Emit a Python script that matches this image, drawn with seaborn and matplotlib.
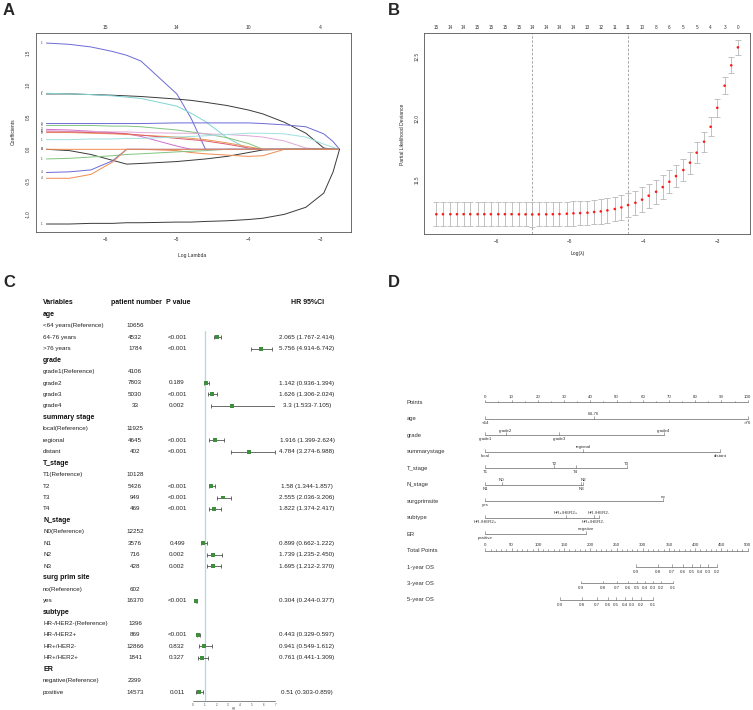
import numpy as np
import pandas as pd
import matplotlib
matplotlib.use("Agg")
import matplotlib.pyplot as plt
import seaborn as sns

# ---------------- panel A : lasso coefficient paths ----------------
knots = [-6.82, -6.5, -6.2, -5.9, -5.7, -5.5, -5.0, -4.8, -4.6, -4.3,
         -4.0, -3.8, -3.5, -3.2, -2.95, -2.82, -2.73]
path_1 = [1.65, 1.63, 1.59, 1.52, 1.46, 1.37, 0.86, 0.48, 0.0, 0, 0, 0, 0, 0, 0, 0, 0]
path_2 = [0.86, 0.86, 0.85, 0.84, 0.83, 0.82, 0.78, 0.76, 0.73, 0.68, 0.61, 0.55, 0.42, 0.25, 0.02, 0, 0]
path_3 = [0.87, 0.86, 0.85, 0.83, 0.81, 0.79, 0.67, 0.56, 0.43, 0.18, 0, 0, 0, 0, 0, 0, 0]
path_4 = [0.40, 0.40, 0.40, 0.40, 0.40, 0.40, 0.41, 0.41, 0.41, 0.41, 0.41, 0.40, 0.38, 0.35, 0.24, 0.12, 0]
path_5 = [0.37, 0.37, 0.37, 0.36, 0.36, 0.35, 0.30, 0.27, 0.24, 0.18, 0.09, 0.0, 0, 0, 0, 0, 0]
path_6 = [0.31, 0.30, 0.28, 0.26, 0.24, 0.20, 0.05, 0, 0, 0, 0, 0, 0, 0, 0, 0, 0]
path_7 = [0.29, 0.28, 0.28, 0.27, 0.27, 0.26, 0.25, 0.25, 0.24, 0.23, 0.21, 0.19, 0.13, 0.02, 0, 0, 0]
path_8 = [0.26, 0.26, 0.25, 0.24, 0.23, 0.22, 0.19, 0.17, 0.15, 0.10, 0.04, 0.0, 0, 0, 0, 0, 0]
path_9 = [0.27, 0.27, 0.26, 0.25, 0.24, 0.22, 0.17, 0.15, 0.13, 0.08, 0.02, 0, 0, 0, 0, 0, 0]
path_10 = [0.15, 0.15, 0.16, 0.16, 0.17, 0.17, 0.19, 0.20, 0.21, 0.23, 0.25, 0.25, 0.24, 0.19, 0.08, 0.03, 0]
path_11 = [0, -0.02, -0.08, -0.17, -0.23, -0.22, -0.19, -0.17, -0.15, -0.11, -0.05, -0.01, 0, 0, 0, 0, 0]
path_12 = [0, 0, 0, 0, 0, 0, -0.02, -0.05, -0.07, -0.09, -0.11, -0.10, 0, 0, 0, 0, 0]
path_13 = [-0.15, -0.14, -0.12, -0.10, -0.08, -0.07, -0.04, -0.03, -0.02, 0, 0, 0, 0, 0, 0, 0, 0]
path_14 = [-0.36, -0.35, -0.32, -0.18, 0, 0, 0, 0, 0, 0, 0, 0, 0, 0, 0, 0, 0]
path_15 = [-0.45, -0.45, -0.39, -0.20, 0, 0, 0, 0, 0, 0, 0, 0, 0, 0, 0, 0, 0]
path_16 = [-1.16, -1.16, -1.15, -1.15, -1.14, -1.14, -1.13, -1.13, -1.12, -1.11,
           -1.09, -1.07, -1.01, -0.90, -0.68, -0.35, 0]
path_labels = ['1', '1', '7', '2', '3', '3', '5', '3', '6', '1', '0', '4', '1', '4', '4', '1']
top_a_ticks = [-6, -5, -4, -3]
top_a_labels = ['15', '14', '10', '4']

# ---------------- panel B : cross validation ----------------
log_lambda = [-6.81, -6.72, -6.62, -6.53, -6.44, -6.35, -6.25, -6.16, -6.07, -5.97,
              -5.88, -5.79, -5.69, -5.60, -5.51, -5.42, -5.32, -5.23, -5.14, -5.04,
              -4.95, -4.86, -4.76, -4.67, -4.58, -4.49, -4.39, -4.30, -4.21, -4.11,
              -4.02, -3.93, -3.83, -3.74, -3.65, -3.56, -3.46, -3.37, -3.28, -3.18,
              -3.09, -3.00, -2.90, -2.81, -2.72]
deviance = [11.223, 11.223, 11.223, 11.223, 11.223, 11.223, 11.223, 11.223, 11.223, 11.223,
            11.223, 11.223, 11.222, 11.222, 11.221, 11.222, 11.222, 11.223, 11.224, 11.227,
            11.230, 11.232, 11.235, 11.241, 11.246, 11.254, 11.265, 11.278, 11.297, 11.316,
            11.341, 11.373, 11.405, 11.443, 11.486, 11.532, 11.581, 11.641, 11.722, 11.811,
            11.932, 12.086, 12.265, 12.430, 12.576]
dev_se = [0.097, 0.097, 0.097, 0.097, 0.097, 0.097, 0.097, 0.097, 0.097, 0.097,
          0.097, 0.097, 0.097, 0.097, 0.098, 0.098, 0.098, 0.098, 0.098, 0.098,
          0.099, 0.099, 0.099, 0.099, 0.100, 0.100, 0.100, 0.100, 0.100, 0.099,
          0.099, 0.098, 0.097, 0.096, 0.094, 0.092, 0.090, 0.088, 0.085, 0.082,
          0.078, 0.074, 0.069, 0.065, 0.062]
nonzero_counts = ['15', '14', '14', '15', '15', '15', '15', '14', '14', '14', '14', '13',
                  '12', '11', '11', '10', '8', '6', '5', '5', '4', '3', '0']
lambda_min_idx = 14
lambda_1se_idx = 28

# ---------------- panel C : multivariable cox table ----------------
group_names = ['age', 'grade', 'summary stage', 'T_stage', 'N_stage',
               'surg prim site', 'subtype', 'ER']
row_labels = ['age', '<64 years(Reference)', '64-76 years', '>76 years',
              'grade', 'grade1(Reference)', 'grade2', 'grade3', 'grade4',
              'summary stage', 'local(Reference)', 'regional', 'distant',
              'T_stage', 'T1(Reference)', 'T2', 'T3', 'T4',
              'N_stage', 'N0(Reference)', 'N1', 'N2', 'N3',
              'surg prim site', 'no(Reference)', 'yes',
              'subtype', 'HR-/HER2-(Reference)', 'HR-/HER2+', 'HR+/HER2-', 'HR+/HER2+',
              'ER', 'negative(Reference)', 'positive']
patient_n = ['', '10656', '4532', '1784',
             '', '4106', '7803', '5030', '33',
             '', '11925', '4645', '402',
             '', '10128', '5426', '949', '469',
             '', '12252', '3576', '716', '428',
             '', '602', '16370',
             '', '1396', '869', '12866', '1841',
             '', '2399', '14573']
p_values = ['', '', '<0.001', '<0.001',
            '', '', '0.189', '<0.001', '0.002',
            '', '', '<0.001', '<0.001',
            '', '', '<0.001', '<0.001', '<0.001',
            '', '', '0.499', '0.002', '0.002',
            '', '', '<0.001',
            '', '', '<0.001', '0.832', '0.327',
            '', '', '0.011']
hr_est = ['', '', '2.065', '5.756',
          '', '', '1.142', '1.626', '3.3',
          '', '', '1.916', '4.784',
          '', '', '1.58', '2.555', '1.822',
          '', '', '0.899', '1.739', '1.695',
          '', '', '0.304',
          '', '', '0.443', '0.941', '0.761',
          '', '', '0.51']
hr_low = ['', '', '1.767', '4.914',
          '', '', '0.936', '1.306', '1.533',
          '', '', '1.399', '3.274',
          '', '', '1.344', '2.036', '1.374',
          '', '', '0.662', '1.235', '1.212',
          '', '', '0.244',
          '', '', '0.329', '0.549', '0.441',
          '', '', '0.303']
hr_high = ['', '', '2.414', '6.742',
           '', '', '1.394', '2.024', '7.105',
           '', '', '2.624', '6.988',
           '', '', '1.857', '3.206', '2.417',
           '', '', '1.222', '2.450', '2.370',
           '', '', '0.377',
           '', '', '0.597', '1.612', '1.309',
           '', '', '0.859']
hr_axis_ticks = [0, 1, 2, 3, 4, 5, 6, 7]

# ---------------- panel D : nomogram ----------------
nomo_rows = ['Points', 'age', 'grade', 'summarystage', 'T_stage', 'N_stage',
             'surgprimsite', 'subtype', 'ER', 'Total Points',
             '1-year OS', '3-year OS', '5-year OS']
age_levels = ['<64', '64-76', '>76']
age_points = [0, 41.4, 100]
grade_levels = ['grade1', 'grade2', 'grade3', 'grade4']
grade_points = [0, 7.7, 28.1, 68.1]
stage_levels = ['local', 'regional', 'distant']
stage_points = [0, 37.4, 89.5]
t_levels = ['T1', 'T2', 'T3', 'T4']
t_points = [0, 26.3, 53.9, 34.4]
n_levels = ['N0', 'N1', 'N2', 'N3']
n_points = [6.2, 0, 37.4, 36.5]
surg_levels = ['no', 'yes']
surg_points = [67.6, 0]
subtype_levels = ['HR-/HER2-', 'HR-/HER2+', 'HR+/HER2-', 'HR+/HER2+']
subtype_points = [43.3, 0, 41.3, 30.6]
er_levels = ['negative', 'positive']
er_points = [38.4, 0]
os1_probs = ['0.9', '0.8', '0.7', '0.6', '0.5', '0.4', '0.3', '0.2']
os1_total = [287.2, 328.4, 356.4, 376.1, 393.3, 409.2, 425.0, 442.2]
os3_probs = ['0.9', '0.8', '0.7', '0.6', '0.5', '0.4', '0.3', '0.2', '0.1']
os3_total = [182.3, 224.9, 251.6, 272.6, 289.1, 304.3, 318.9, 335.5, 358.3]
os5_probs = ['0.9', '0.8', '0.7', '0.6', '0.5', '0.4', '0.3', '0.2', '0.1']
os5_total = [142.3, 184.9, 212.2, 233.2, 249.7, 265.6, 280.2, 296.7, 318.9]

# ---------------- figure ----------------
sns.set_style("white")
plt.rcParams['font.family'] = ['Liberation Sans', 'DejaVu Sans']
W, H = 753, 710
fig = plt.figure(figsize=(W / 100, H / 100), dpi=100)


def box(x0, y0, x1, y1):
    # pixel rectangle -> figure fraction
    return [x0 / W, 1 - y1 / H, (x1 - x0) / W, (y1 - y0) / H]


def ftext(x, y, s, **kw):
    fig.text(x / W, 1 - y / H, s, **kw)


def r_frame(ax):
    for sp in ax.spines.values():
        sp.set_visible(True)
        sp.set_color('#555555')
        sp.set_linewidth(0.6)
    ax.tick_params(labelsize=3.3, length=2, width=0.4, colors='#333333', pad=1.5)
    plt.setp(ax.get_yticklabels(), rotation=90, va='center')


for lab, px, py in [('A', 3, 3), ('B', 388, 3), ('C', 3, 275), ('D', 388, 275)]:
    ftext(px, py, lab, fontsize=12, fontweight='bold', va='top', ha='left')

# panel A
axA = fig.add_axes(box(36, 33, 351, 232))
a_colors = ['#6a6ad6', '#3a3a3a', '#7fd4d4', '#6a6ad6', '#80c480', '#cf6fcf', '#e0a6d6',
            '#e89a50', '#e05a70', '#9fe0e0', '#3a3a3a', '#f08a50', '#80c480',
            '#6a6ad6', '#f08a50', '#3a3a3a']
a_paths = [path_1, path_2, path_3, path_4, path_5, path_6, path_7, path_8, path_9,
           path_10, path_11, path_12, path_13, path_14, path_15, path_16]
for vals, col, lab in zip(a_paths, a_colors, path_labels):
    sns.lineplot(x=knots, y=vals, ax=axA, color=col, lw=0.7, estimator=None)
    axA.text(-6.88, vals[0], lab, fontsize=2.2, ha='center', va='center', color='#333333')
axA.set_xlim(-6.965, -2.57)
axA.set_ylim(-1.284, 1.806)
axA.set_xticks([-6, -5, -4, -3])
axA.set_yticks([-1.0, -0.5, 0.0, 0.5, 1.0, 1.5])
axA.set_yticklabels(['-1.0', '-0.5', '0.0', '0.5', '1.0', '1.5'])
r_frame(axA)
secA = axA.secondary_xaxis('top')
secA.set_xticks(top_a_ticks, labels=top_a_labels)
secA.tick_params(length=0, labelsize=3.6, pad=2.5, colors='#333333')
secA.spines['top'].set_visible(False)
ftext(13, 132, 'Coefficients', fontsize=3.6, rotation=90, ha='center', va='center')
ftext(192, 255, 'Log Lambda', fontsize=3.6, ha='center', va='center')

# panel B
axB = fig.add_axes(box(424.3, 33.3, 750, 234.3))
axB.errorbar(log_lambda, deviance, yerr=dev_se, fmt='none', ecolor='#b8b8b8',
             elinewidth=0.6, capsize=2.0, capthick=0.6, zorder=2)
sns.scatterplot(x=log_lambda, y=deviance, ax=axB, color='#ff1a1a', s=3.5,
                edgecolor='none', zorder=3)
for idx in [lambda_min_idx, lambda_1se_idx]:
    axB.axvline(log_lambda[idx], color='#9a9a9a', lw=0.6, ls=(0, (3, 2)), zorder=1)
axB.set_xlim(-6.973, -2.556)
axB.set_ylim(11.06, 12.69)
axB.set_xticks([-6, -5, -4, -3])
axB.set_yticks([11.5, 12.0, 12.5])
axB.set_yticklabels(['11.5', '12.0', '12.5'])
r_frame(axB)
secB = axB.secondary_xaxis('top')
secB.set_xticks(log_lambda[::2], labels=nonzero_counts)
secB.tick_params(length=0, labelsize=3.3, pad=2.5, colors='#333333')
secB.spines['top'].set_visible(False)
ftext(402, 134, 'Partial Likelihood Deviance', fontsize=3.6, rotation=90, ha='center', va='center')
ftext(578, 254, 'Log(\u03bb)', fontsize=3.6, ha='center', va='center')

# panel C table
def crow(py):
    return (py - 314.3) / 11.45


ax_t = fig.add_axes(box(0, 290, 380, 710))
ax_t.set_xlim(0, 380)
ax_t.set_ylim(crow(710), crow(290))
ax_t.axis('off')
hdr = dict(fontsize=5.0, fontweight='bold', va='center', color='#111111')
ax_t.text(43, -1, 'Variables', ha='left', **hdr)
ax_t.text(111, -1, 'patient number', ha='left', **hdr)
ax_t.text(166, -1, 'P value', ha='left', **hdr)
ax_t.text(291, -1, 'HR 95%CI', ha='left', **hdr)
for i, lab in enumerate(row_labels):
    if lab in group_names:
        ax_t.text(43, i, lab, ha='left', va='center', fontsize=5.0, fontweight='bold', color='#111111')
        continue
    ax_t.text(43, i, lab, ha='left', va='center', fontsize=4.5, color='#222222')
    ax_t.text(135, i, patient_n[i], ha='center', va='center', fontsize=4.5, color='#222222')
    if p_values[i]:
        ax_t.text(177, i, p_values[i], ha='center', va='center', fontsize=4.5, color='#222222')
        ax_t.text(307, i, f"{hr_est[i]} ({hr_low[i]}-{hr_high[i]})", ha='center',
                  va='center', fontsize=4.5, color='#222222')

forest = pd.DataFrame({'row': range(len(row_labels)), 'hr': hr_est, 'lo': hr_low, 'hi': hr_high})
forest = forest[forest['hr'] != ''].astype(float)
ax_f = fig.add_axes(box(192.7, 331, 275.3, 700.5))
ax_f.axvline(1, color='#a9dbe4', lw=0.9, zorder=0)
ax_f.errorbar(forest['hr'], forest['row'],
              xerr=[forest['hr'] - forest['lo'], forest['hi'] - forest['hr']],
              fmt='none', ecolor='#333333', elinewidth=0.5, capsize=1.1, capthick=0.5, zorder=2)
sns.scatterplot(data=forest, x='hr', y='row', ax=ax_f, marker='s', color='#3d8f3d',
                s=8, edgecolor='none', zorder=3)
ax_f.set_xlim(0, 7)
ax_f.set_ylim(crow(700.5), crow(331))
ax_f.set_xticks(hr_axis_ticks)
ax_f.set_yticks([])
for s in ['left', 'right', 'top']:
    ax_f.spines[s].set_visible(False)
ax_f.spines['bottom'].set_color('#555555')
ax_f.spines['bottom'].set_linewidth(0.5)
ax_f.tick_params(axis='x', labelsize=2.2, length=1.2, width=0.4, pad=0.6, colors='#444444')
ax_f.set_xlabel('HR', fontsize=2.2, labelpad=0.3, color='#444444')
ax_f.set_ylabel('')

# panel D nomogram
def nrow(py):
    return (py - 402.3) / 16.47


PX0, PX100 = 485.3, 747.7
ppx = (PX100 - PX0) / 100
ax_n = fig.add_axes(box(380, 380, 753, 610))
ax_n.set_xlim((380 - PX0) / ppx, (753 - PX0) / ppx)
ax_n.set_ylim(nrow(610), nrow(380))
ax_n.axis('off')
lc, tc = '#666666', '#333333'
tk = 0.17

for r, name in enumerate(nomo_rows):
    ax_n.text((406.7 - PX0) / ppx, r, name, ha='left', va='center', fontsize=4.2, color=tc)


def axis_row(r, lo, hi, major, major_lab, minor, above=True):
    sns.lineplot(x=[lo, hi], y=[r, r], ax=ax_n, color=lc, lw=0.5, estimator=None)
    for m in minor:
        ax_n.plot([m, m], [r, r - tk * 0.6], color=lc, lw=0.4)
    for m, lab in zip(major, major_lab):
        ax_n.plot([m, m], [r, r - tk], color=lc, lw=0.4)
        ax_n.text(m, r - 0.33 if above else r + 0.3, lab, ha='center', va='center',
                  fontsize=3.2, color=tc)


axis_row(0, 0, 100, list(range(0, 101, 10)), [str(v) for v in range(0, 101, 10)],
         list(range(5, 100, 10)))
axis_row(9, 0, 100, [v / 5 for v in range(0, 501, 50)], [str(v) for v in range(0, 501, 50)],
         [v / 5 for v in range(10, 500, 10) if v % 50])

var_scales = [(age_levels, age_points), (grade_levels, grade_points),
              (stage_levels, stage_points), (t_levels, t_points), (n_levels, n_points),
              (surg_levels, surg_points), (subtype_levels, subtype_points),
              (er_levels, er_points)]
for r, (levels, pts) in enumerate(var_scales, start=1):
    sns.lineplot(x=[min(pts), max(pts)], y=[r, r], ax=ax_n, color=lc, lw=0.5, estimator=None)
    order = np.argsort(pts)
    for k, j in enumerate(order):
        ax_n.plot([pts[j], pts[j]], [r, r - tk], color=lc, lw=0.4)
        above = (k % 2 == 1)
        ax_n.text(pts[j], r - 0.28 if above else r + 0.24, levels[j], ha='center',
                  va='center', fontsize=3.2, color=tc)

for r, probs, tot in [(10, os1_probs, os1_total), (11, os3_probs, os3_total),
                      (12, os5_probs, os5_total)]:
    xs = [t / 5 for t in tot]
    sns.lineplot(x=[min(xs), max(xs)], y=[r, r], ax=ax_n, color=lc, lw=0.5, estimator=None)
    for x, p in zip(xs, probs):
        ax_n.plot([x, x], [r, r - tk], color=lc, lw=0.4)
        ax_n.text(x, r + 0.3, p, ha='center', va='center', fontsize=3.2, color=tc)

for a in fig.axes:
    if a.get_legend() is not None:
        a.get_legend().remove()

fig.savefig('out.png', dpi=100)
